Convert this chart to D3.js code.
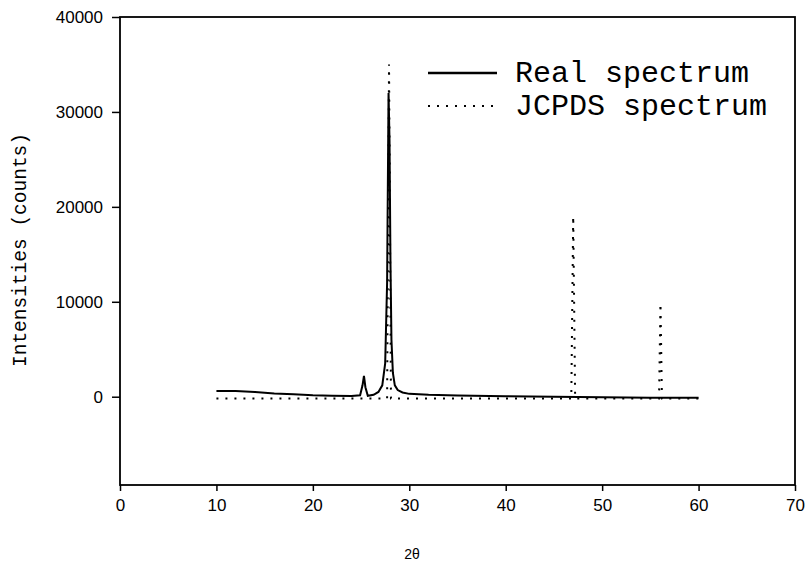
<!DOCTYPE html>
<html>
<head>
<meta charset="utf-8">
<script src="https://cdn.jsdelivr.net/npm/d3@7"></script>
<style>
  body { margin: 0; background: #fff; }
  svg { display: block; }
</style>
</head>
<body>
<div id="chart"></div>
<script>
// Real spectrum (2theta, counts)
const realX = [10, 12, 14, 16, 18, 20, 22, 24, 24.9, 25.15, 25.3, 25.45, 25.7, 26.3, 26.8, 27.2, 27.5, 27.7, 27.85, 27.95, 28.05, 28.15, 28.3, 28.5, 28.8, 29.3, 30, 32, 35, 40, 45, 50, 55, 60];
const realY = [600, 600, 500, 350, 250, 150, 100, 80, 150, 1200, 2200, 1000, 100, 200, 500, 1200, 3500, 12000, 32000, 27000, 14000, 6000, 2500, 1200, 700, 450, 300, 200, 120, 50, 0, -50, -100, -120];

// JCPDS reference spectrum (2theta, counts)
const jcpdsX = [10, 27.7, 27.9, 28.1, 46.8, 47.0, 47.2, 55.9, 56.05, 56.2, 60];
const jcpdsY = [-200, -200, 35000, -200, -200, 19000, -200, -200, 9800, -200, -200];

const xTicks = [0, 10, 20, 30, 40, 50, 60, 70];
const yTicks = [0, 10000, 20000, 30000, 40000];
const legendNames = ["Real spectrum", "JCPDS spectrum"];

const W = 810, H = 570;
const svg = d3.select("#chart").append("svg")
  .attr("width", W)
  .attr("height", H);

const x = d3.scaleLinear().domain([0, 70]).range([120, 795]);
const y = d3.scaleLinear().domain([-9300, 40000]).range([485, 17]);

// frame
svg.append("rect")
  .attr("x", x(0)).attr("y", y(40000))
  .attr("width", x(70) - x(0)).attr("height", y(-9300) - y(40000))
  .attr("fill", "none").attr("stroke", "#000").attr("stroke-width", 1.8);

// axes
const xAxis = svg.append("g")
  .attr("transform", `translate(0,${y(-9300)})`)
  .call(d3.axisBottom(x).tickValues(xTicks).tickSize(6).tickPadding(8).tickFormat(d3.format("d")));
const yAxis = svg.append("g")
  .attr("transform", `translate(${x(0)},0)`)
  .call(d3.axisLeft(y).tickValues(yTicks).tickSize(8).tickPadding(9).tickFormat(d3.format("d")));

[xAxis, yAxis].forEach(g => {
  g.select(".domain").remove();
  g.selectAll("line").attr("stroke", "#000").attr("stroke-width", 1.5);
  g.selectAll("text")
    .attr("fill", "#000")
    .style("font-family", "'Liberation Sans', Arial, sans-serif")
    .style("font-size", "17px");
});

// axis titles
svg.append("text")
  .attr("x", 412).attr("y", 559)
  .attr("text-anchor", "middle")
  .style("font-family", "'Liberation Sans', Arial, sans-serif")
  .style("font-size", "14px")
  .text("2θ");

svg.append("text")
  .attr("transform", `translate(26,250) rotate(-90)`)
  .attr("text-anchor", "middle")
  .style("font-family", "'Liberation Mono', 'Courier New', monospace")
  .style("font-size", "19.5px")
  .text("Intensities (counts)");

// lines
const lineGen = (xs, ys) => d3.line()
  .x((d, i) => x(xs[i]))
  .y((d, i) => y(ys[i]))(xs);

svg.append("path")
  .attr("d", lineGen(jcpdsX, jcpdsY))
  .attr("fill", "none")
  .attr("stroke", "#000")
  .attr("stroke-width", 2)
  .attr("stroke-dasharray", "2,7");

svg.append("path")
  .attr("d", lineGen(realX, realY))
  .attr("fill", "none")
  .attr("stroke", "#000")
  .attr("stroke-width", 2);

// legend
const legend = svg.append("g");
legendNames.forEach((name, i) => {
  const ly = 73 + i * 33;
  legend.append("line")
    .attr("x1", 428).attr("x2", 497)
    .attr("y1", ly).attr("y2", ly)
    .attr("stroke", "#000")
    .attr("stroke-width", i === 0 ? 2.5 : 2)
    .attr("stroke-dasharray", i === 0 ? null : "2,7");
  legend.append("text")
    .attr("x", 515).attr("y", ly + 9)
    .style("font-family", "'Liberation Mono', 'Courier New', monospace")
    .style("font-size", "30px")
    .text(name);
});
</script>
</body>
</html>
